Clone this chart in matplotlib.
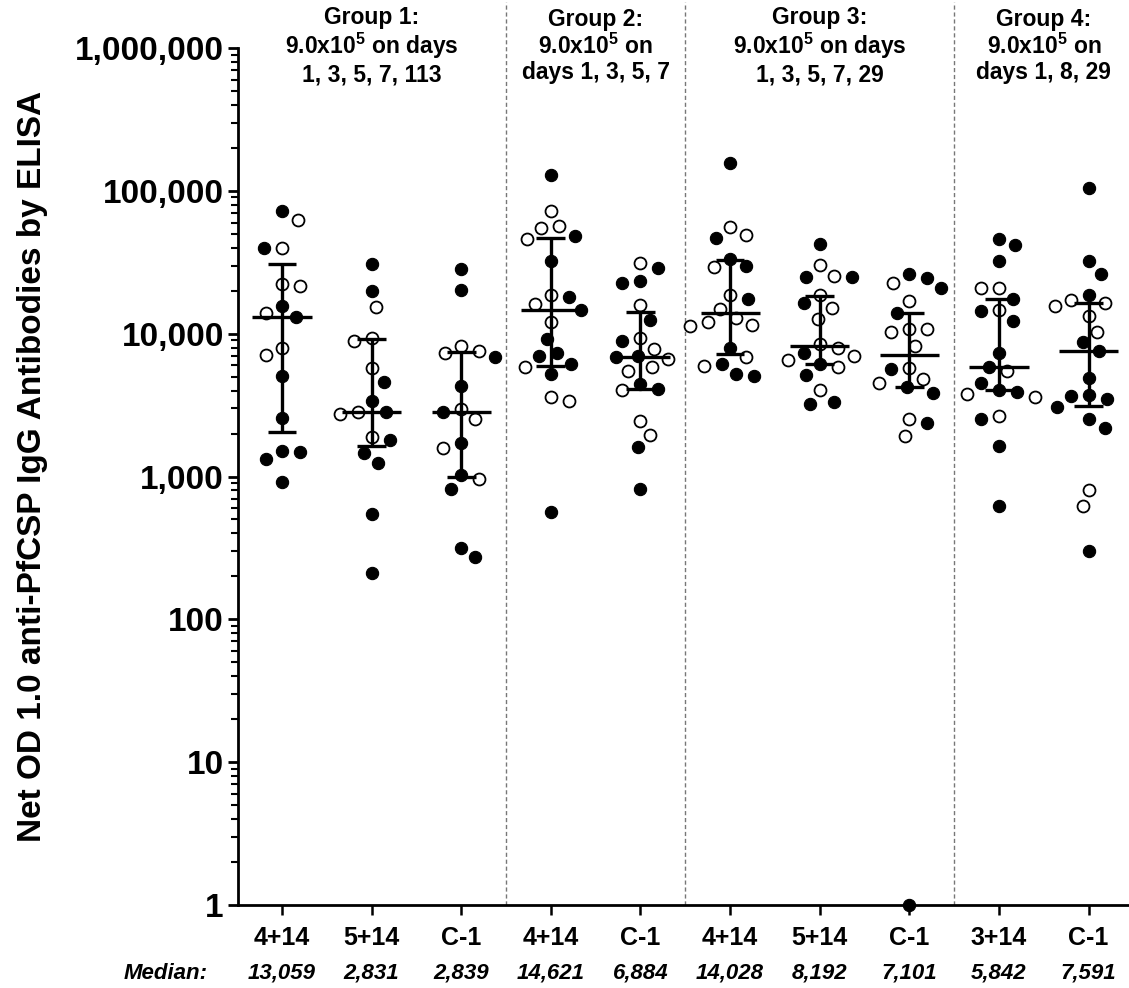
import numpy as np
import matplotlib
matplotlib.use("Agg")
import matplotlib.pyplot as plt
from matplotlib import transforms
from matplotlib.ticker import FixedLocator, FuncFormatter, LogLocator, NullFormatter

plt.rcParams['font.family'] = ['Liberation Sans', 'DejaVu Sans']
plt.rcParams['mathtext.fontset'] = 'custom'
plt.rcParams['mathtext.rm'] = 'Liberation Sans'
plt.rcParams['mathtext.bf'] = 'Liberation Sans:bold'
plt.rcParams['mathtext.it'] = 'Liberation Sans:italic'

# ---------------- data ----------------
categories = ["4+14", "5+14", "C-1", "4+14", "C-1", "4+14", "5+14", "C-1", "3+14", "C-1"]
group_titles = [
    "Group 1:\n9.0x10$^{\\mathbf{5}}$ on days\n1, 3, 5, 7, 113",
    "Group 2:\n9.0x10$^{\\mathbf{5}}$ on\ndays 1, 3, 5, 7",
    "Group 3:\n9.0x10$^{\\mathbf{5}}$ on days\n1, 3, 5, 7, 29",
    "Group 4:\n9.0x10$^{\\mathbf{5}}$ on\ndays 1, 8, 29",
]
group_members = [[0, 1, 2], [3, 4], [5, 6, 7], [8, 9]]
medians = [13059, 2831, 2839, 14621, 6884, 14028, 8192, 7101, 5842, 7591]
median_labels = ["13,059", "2,831", "2,839", "14,621", "6,884", "14,028", "8,192", "7,101", "5,842", "7,591"]
q1 = [2050, 1640, 1000, 5970, 4080, 7220, 6110, 4260, 4040, 3100]
q3 = [30800, 9180, 7480, 47100, 14100, 32900, 18500, 13900, 17400, 16300]

g1_a_vals = [72400, 62700, 39900, 39900, 22300, 21600, 15700, 14000, 13059, 7960, 7100, 5060, 2570, 1510, 1490, 1330, 920]
g1_a_fill = [1, 0, 0, 1, 0, 0, 1, 0, 1, 0, 0, 1, 1, 1, 1, 1, 1]
g1_b_vals = [30800, 20000, 15300, 9380, 8890, 5730, 4620, 3400, 2831, 2740, 2810, 1880, 1800, 1470, 1240, 544, 212]
g1_b_fill = [1, 1, 0, 0, 0, 0, 1, 1, 0, 0, 1, 0, 1, 1, 1, 1, 1]
g1_c_vals = [28200, 20300, 8200, 7600, 7290, 6910, 4300, 2970, 2839, 2530, 1710, 1580, 1030, 958, 815, 318, 272]
g1_c_fill = [1, 1, 0, 0, 0, 1, 1, 0, 1, 0, 1, 0, 1, 0, 1, 1, 1]
g2_a_vals = [129400, 72400, 56300, 54800, 48600, 45900, 32300, 18700, 18200, 16100, 14621, 12000, 9180, 7290, 7010, 6140, 5870, 5200, 3590, 3400, 568]
g2_a_fill = [1, 0, 0, 0, 1, 0, 1, 0, 1, 0, 1, 0, 1, 1, 1, 1, 0, 1, 0, 0, 1]
g2_b_vals = [31100, 28700, 23500, 22800, 15900, 12500, 9290, 8940, 7820, 6950, 6884, 6650, 5820, 5510, 4430, 4120, 4040, 2460, 1950, 1600, 819]
g2_b_fill = [0, 1, 1, 1, 0, 1, 0, 1, 0, 1, 1, 0, 0, 0, 1, 1, 0, 0, 0, 1, 1]
g3_a_vals = [156300, 56200, 49200, 46600, 33400, 29900, 29100, 18700, 17400, 14900, 12800, 12000, 11500, 11400, 7910, 6910, 6140, 5970, 5230, 5060]
g3_a_fill = [1, 0, 0, 1, 1, 1, 0, 0, 1, 0, 0, 0, 0, 0, 1, 0, 1, 0, 1, 1]
g3_b_vals = [42500, 30300, 25500, 25100, 25100, 18700, 16300, 15100, 12700, 8490, 7910, 7290, 6990, 6550, 6110, 5870, 5150, 4040, 3340, 3220]
g3_b_fill = [1, 0, 0, 1, 1, 0, 1, 0, 0, 0, 0, 1, 0, 0, 1, 0, 1, 0, 1, 1]
g3_c_vals = [26200, 24700, 22800, 21000, 16900, 13900, 10700, 10700, 10200, 8200, 5790, 5640, 4800, 4550, 4260, 3830, 2510, 2380, 1920, 1]
g3_c_fill = [1, 1, 0, 1, 0, 1, 0, 0, 0, 0, 0, 1, 0, 0, 1, 1, 0, 1, 0, 1]
g4_a_vals = [46100, 41900, 32400, 21000, 20800, 17400, 14700, 14300, 12300, 7380, 5842, 5520, 4550, 4040, 3930, 3790, 3630, 2650, 2510, 1640, 622]
g4_a_fill = [1, 1, 1, 0, 0, 1, 0, 1, 1, 1, 1, 0, 1, 1, 1, 0, 0, 0, 1, 1, 1]
g4_b_vals = [104500, 32500, 26200, 18700, 17300, 16300, 15700, 13300, 10300, 8790, 7591, 4920, 3730, 3690, 3470, 3090, 2510, 2200, 806, 622, 303]
g4_b_fill = [1, 1, 1, 1, 0, 0, 0, 0, 0, 1, 1, 1, 1, 1, 1, 1, 1, 1, 0, 0, 1]

series_vals = [g1_a_vals, g1_b_vals, g1_c_vals, g2_a_vals, g2_b_vals,
               g3_a_vals, g3_b_vals, g3_c_vals, g4_a_vals, g4_b_vals]
series_fill = [g1_a_fill, g1_b_fill, g1_c_fill, g2_a_fill, g2_b_fill,
               g3_a_fill, g3_b_fill, g3_c_fill, g4_a_fill, g4_b_fill]

# ---------------- figure ----------------
W, H = 1129, 988
fig = plt.figure(figsize=(W / 100, H / 100), dpi=100)
ax = fig.add_axes([238 / W, (H - 905) / H, 1 - 238 / W, (905 - 48) / H])
ax.set_yscale('log')
ax.set_ylim(1, 1e6)
ax.set_xlim(-0.49, 9.45)

for s in ['top', 'right']:
    ax.spines[s].set_visible(False)
for s in ['left', 'bottom']:
    ax.spines[s].set_linewidth(2.0)

ax.yaxis.set_major_locator(FixedLocator([1, 10, 100, 1e3, 1e4, 1e5, 1e6]))
ax.yaxis.set_major_formatter(FuncFormatter(lambda v, p: "{:,}".format(int(round(v)))))
ax.yaxis.set_minor_locator(LogLocator(base=10, subs=np.arange(2, 10)))
ax.yaxis.set_minor_formatter(NullFormatter())
ax.tick_params(axis='y', which='major', length=7.2, width=2.0, labelsize=24, pad=3)
ax.tick_params(axis='y', which='minor', length=5, width=1.5)
for lab in ax.get_yticklabels():
    lab.set_fontweight('bold')

xs = np.arange(len(categories))
ax.set_xticks(xs)
ax.set_xticklabels(categories, fontsize=18, fontweight='bold')
ax.tick_params(axis='x', which='major', length=7.2, width=1.8, pad=8)


def swarm_positions(x0, vals, D=17.0, step=2.0):
    vals = np.asarray(vals, dtype=float)
    pts = ax.transData.transform(np.column_stack([np.full(len(vals), x0), vals]))
    order = np.argsort(-vals, kind='stable')
    placed = []
    offs = np.zeros(len(vals))
    flip = 1
    for idx in order:
        py = pts[idx, 1]
        cands = [0.0]
        for k in range(1, 80):
            cands += [flip * k * step, -flip * k * step]
        for c in cands:
            if all((c - dx) ** 2 + (py - qy) ** 2 >= D * D for dx, qy in placed):
                break
        if c != 0:
            flip = -flip
        placed.append((c, py))
        offs[idx] = c
    ppu = ax.transData.transform((1, 1))[0] - ax.transData.transform((0, 1))[0]
    return x0 + offs / ppu


for i, (vals, fill) in enumerate(zip(series_vals, series_fill)):
    xp = swarm_positions(xs[i], vals)
    vals = np.asarray(vals, float)
    fill = np.asarray(fill, bool)
    ax.scatter(xp[fill], vals[fill], s=78, facecolor='black', edgecolor='black',
               linewidth=0.8, zorder=3, clip_on=False)
    ax.scatter(xp[~fill], vals[~fill], s=74, facecolor='white', edgecolor='black',
               linewidth=1.3, zorder=3, clip_on=False)

# median + interquartile range
ax.vlines(xs, q1, q3, color='black', lw=2.4, zorder=4)
ax.hlines(q1, xs - 0.16, xs + 0.16, color='black', lw=2.4, zorder=4)
ax.hlines(q3, xs - 0.16, xs + 0.16, color='black', lw=2.4, zorder=4)
ax.hlines(medians, xs - 0.33, xs + 0.33, color='black', lw=2.4, zorder=4)

# group separators
for g in range(len(group_members) - 1):
    xsep = (group_members[g][-1] + group_members[g + 1][0]) / 2
    ax.axvline(xsep, ymin=0, ymax=(905 - 2) / (905 - 48), color='#777777',
               lw=1.0, ls=(0, (3, 2)), clip_on=False, zorder=1)

# headers
bt = transforms.blended_transform_factory(ax.transData, fig.transFigure)
for g, title in enumerate(group_titles):
    xc = np.mean(group_members[g])
    ax.text(xc, 1 - 46 / H, title, transform=bt, ha='center', va='center',
            fontsize=16.5, fontweight='bold', linespacing=1.1)

# medians row
fig.text(208 / W, 1 - 973 / H, "Median:", ha='right', va='center', fontsize=16,
         fontweight='bold', fontstyle='italic')
for i, lab in enumerate(median_labels):
    ax.text(xs[i], 1 - 973 / H, lab, transform=bt, ha='center', va='center',
            fontsize=16, fontweight='bold', fontstyle='italic')

fig.text(33 / W, 1 - 466 / H, "Net OD 1.0 anti-PfCSP IgG Antibodies by ELISA",
         rotation=90, ha='center', va='center', fontsize=24, fontweight='bold')

fig.savefig("out.png", dpi=100)
